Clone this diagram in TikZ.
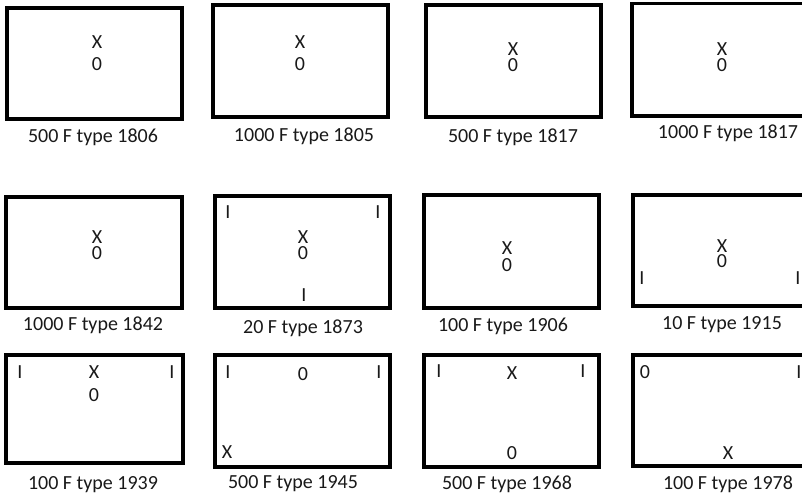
\documentclass[tikz,border=0pt]{standalone}
\usepackage{fontspec}
\setmainfont{Carlito}
\begin{document}
\begin{tikzpicture}[x=1pt,y=-1pt,
  box/.style={draw=black,line width=3.2pt,line join=miter},
  mk/.style={inner sep=0pt,outer sep=0pt,anchor=center,font=\fontsize{20}{24}\selectfont,text=black!90},
  lbl/.style={inner sep=0pt,outer sep=0pt,anchor=base,font=\fontsize{20}{24}\selectfont,text=black!90}]
\useasboundingbox (0,0) rectangle (802,497);
\clip (0,0) rectangle (802,497);
% row 1
\draw[box] (7,8) rectangle (182,119);
\node[mk] (b1x) at (97,42) {X};
\node[mk] (b1o) at (97,64) {0};
\node[lbl] (b1l) at (93,143) {500 F type 1806};
\draw[box] (213,5) rectangle (388,117);
\node[mk] (b2x) at (300,42) {X};
\node[mk] (b2o) at (300,64) {0};
\node[lbl] (b2l) at (304,142) {1000 F type 1805};
\draw[box] (426,5) rectangle (601,117);
\node[mk] (b3x) at (513,49) {X};
\node[mk] (b3o) at (513,65) {0};
\node[lbl] (b3l) at (513,143) {500 F type 1817};
\draw[box] (632,3.5) rectangle (820,116);
\node[mk] (b4x) at (722,49) {X};
\node[mk] (b4o) at (722,65) {0};
\node[lbl] (b4l) at (728,139) {1000 F type 1817};
% row 2
\draw[box] (6,197) rectangle (182,308);
\node[mk] (b5x) at (97,237) {X};
\node[mk] (b5o) at (97,253) {0};
\node[lbl] (b5l) at (93,330) {1000 F type 1842};
\draw[box] (215,196) rectangle (390,308);
\node[mk] (b6x) at (303,237) {X};
\node[mk] (b6o) at (303,253) {0};
\node[mk] (b6i1) at (228,212) {I};
\node[mk] (b6i2) at (378,212) {I};
\node[mk] (b6i3) at (304,295) {I};
\node[lbl] (b6l) at (303,333) {20 F type 1873};
\draw[box] (424,195) rectangle (599,308);
\node[mk] (b7x) at (507,248) {X};
\node[mk] (b7o) at (507,265) {0};
\node[lbl] (b7l) at (503,331) {100 F type 1906};
\draw[box] (633,195) rectangle (820,306);
\node[mk] (b8x) at (722,246) {X};
\node[mk] (b8o) at (722,261) {0};
\node[mk] (b8i1) at (642,278) {I};
\node[mk] (b8i2) at (798,278) {I};
\node[lbl] (b8l) at (722,329) {10 F type 1915};
% row 3
\draw[box] (6,355) rectangle (183,463);
\node[mk] (b9i1) at (20,372) {I};
\node[mk] (b9x) at (94,372) {X};
\node[mk] (b9i2) at (172,372) {I};
\node[mk] (b9o) at (94,395) {0};
\node[lbl] (b9l) at (93,489) {100 F type 1939};
\draw[box] (215,355) rectangle (390,467);
\node[mk] (b10i1) at (228,372) {I};
\node[mk] (b10o) at (303,374) {0};
\node[mk] (b10i2) at (379,372) {I};
\node[mk] (b10x) at (227,452) {X};
\node[lbl] (b10l) at (293,488) {500 F type 1945};
\draw[box] (424,355) rectangle (599,467);
\node[mk] (b11i1) at (439,371) {I};
\node[mk] (b11x) at (512,373) {X};
\node[mk] (b11i2) at (583,371) {I};
\node[mk] (b11o) at (512,453) {0};
\node[lbl] (b11l) at (507,489) {500 F type 1968};
\draw[box] (633,355) rectangle (820,466);
\node[mk] (b12o) at (645,372) {0};
\node[mk] (b12i) at (799,372) {I};
\node[mk] (b12x) at (728,453) {X};
\node[lbl] (b12l) at (728,489) {100 F type 1978};
\end{tikzpicture}
\end{document}
